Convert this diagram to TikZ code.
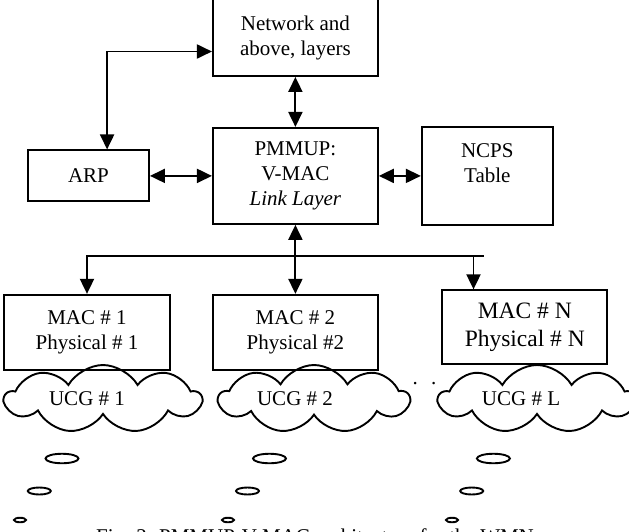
\documentclass[tikz,border=0pt]{standalone}
\usepackage{fontspec}
\setmainfont{Liberation Serif}
\usetikzlibrary{positioning,arrows.meta,shapes.geometric,shapes.symbols}

\begin{document}
\begin{tikzpicture}[
    x=1pt, y=-1pt,
    every node/.style={font=\fontsize{21}{25}\selectfont},
    blk/.style={
        draw, line width=1.9pt, align=center, inner sep=2pt,
        minimum width=#1
    },
    blk/.default=165pt,
    conn/.style={line width=1.9pt},
    dbl/.style={conn, {Triangle[length=15pt,width=14pt]}-{Triangle[length=15pt,width=14pt]}},
    uni/.style={conn, -{Triangle[length=15pt,width=14pt]}},
    ucg/.style={
        draw, cloud, cloud puffs=9, cloud puff arc=120, cloud ignores aspect,
        line width=1.9pt, minimum width=#1, minimum height=68pt, inner sep=0pt
    },
    bubble/.style={draw, ellipse, line width=1.9pt, inner sep=0pt},
]
\useasboundingbox (0,0) rectangle (629,531);

% Upper layers and the link layer
\node[blk, minimum height=77pt] (net) at (295.4,37.5) {Network and\\above, layers};
\node[blk, minimum height=96pt, below=50pt of net] (pmmup) {PMMUP:\\V-MAC\\\textit{Link Layer}};
\node[blk=131pt, minimum height=98pt, right=42pt of pmmup] (ncps) {NCPS\\Table\\~};
\node[blk=121pt, minimum height=51pt, left=62pt of pmmup] (arp) {ARP};

\draw[dbl] (net) -- (pmmup);
\draw[dbl] (arp.east) -- (arp.east -| pmmup.west);
\draw[dbl] (pmmup.east |- ncps.west) -- (ncps.west);
\draw[dbl] ([xshift=18.6pt]arp.north) |- ([yshift=-14pt]net.west);

% === MAC / physical pairs ===
\node[blk, minimum height=75pt, below=69pt of pmmup] (mac2) {MAC \# 2\\Physical \#2};
\node[blk=166pt, minimum height=75pt, left=41pt of mac2] (mac1) {MAC \# 1\\Physical \# 1};
\node[blk, minimum height=74pt, right=62.5pt of mac2, yshift=5pt,
      font=\fontsize{23.5}{28}\selectfont] (macn) {MAC \# N\\Physical \# N};

% Bus below the link layer
\coordinate (bus) at ([yshift=-31pt]pmmup.south);
\coordinate (busend) at ([xshift=-41pt]macn.north |- bus);
\draw[dbl] (pmmup) -- (mac2);
\draw[uni] (busend) -| (mac1.north);
\draw[uni] ([xshift=-51.3pt]macn.north |- bus) -- ([xshift=-51.3pt]macn.north);

% === UCG clouds ===
\node[ucg=196pt] (ucg1) at (103,399) {};
\node (ucg1t) at ([xshift=-16pt]ucg1.center) {UCG \# 1};
\node[ucg=190pt] (ucg2) at (314,399) {};
\node (ucg2t) at ([xshift=-19pt]ucg2.center) {UCG \# 2};
\node[ucg=196pt] (ucgl) at (537,399) {};
\node (ucglt) at ([xshift=-16pt]ucgl.center) {UCG \# L};
\node[anchor=base] (gap) at (424.5,384) {.\hspace{13.5pt}.};

% Thought bubbles under each cloud
\node[bubble, minimum width=33pt, minimum height=9.5pt] (b1a) at (62,458.5) {};
\node[bubble, minimum width=23pt, minimum height=7pt] (b1b) at (39.3,491) {};
\node[bubble, minimum width=12pt, minimum height=4.5pt] (b1c) at (20,520) {};
\node[bubble, minimum width=33pt, minimum height=9.5pt] (b2a) at (269.5,458.5) {};
\node[bubble, minimum width=23pt, minimum height=7pt] (b2b) at (247.5,491) {};
\node[bubble, minimum width=12pt, minimum height=4.5pt] (b2c) at (228,520) {};
\node[bubble, minimum width=33pt, minimum height=9.5pt] (b3a) at (493.4,458.5) {};
\node[bubble, minimum width=23pt, minimum height=7pt] (b3b) at (471.7,491) {};
\node[bubble, minimum width=12pt, minimum height=4.5pt] (b3c) at (452,520) {};

% Caption, cut by the page edge
\node[anchor=base] (caption) at (315,543) {Fig. 2. PMMUP-V-MAC architecture for the WMN};

\end{tikzpicture}
\end{document}
